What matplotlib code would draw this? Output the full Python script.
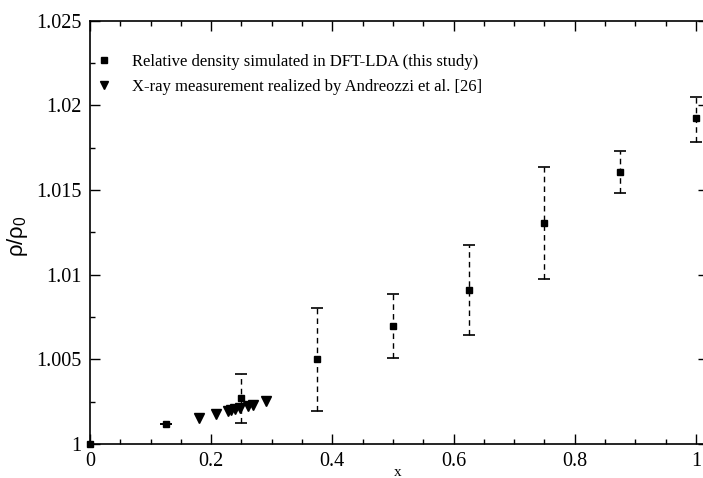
import numpy as np
import matplotlib
matplotlib.use('Agg')
import matplotlib.pyplot as plt
from matplotlib.ticker import MultipleLocator, FuncFormatter

plt.rcParams['font.family'] = ['Liberation Serif', 'DejaVu Serif']

# DFT-LDA relative density (this study)
x_dft = [0.0, 0.125, 0.25, 0.375, 0.5, 0.625, 0.75, 0.875, 1.0]
rho_dft = [1.0, 1.00116, 1.0027, 1.0050, 1.00696, 1.00908, 1.01306, 1.01606, 1.01923]
err_low = [0.0, 0.0, 0.00148, 0.00307, 0.00189, 0.00266, 0.00329, 0.00123, 0.00138]
err_high = [0.0, 0.0, 0.00145, 0.00302, 0.00189, 0.00268, 0.00328, 0.00126, 0.00128]

# X-ray measurement (Andreozzi et al.)
x_xray = [0.18, 0.208, 0.227, 0.233, 0.24, 0.247, 0.261, 0.269, 0.29]
rho_xray = [1.00153, 1.00176, 1.00193, 1.00198, 1.00205, 1.00211, 1.00223, 1.00229, 1.00254]

fig = plt.figure(figsize=(7.03, 4.78), dpi=100)
ax = fig.add_axes([90 / 703, 34 / 478, 618 / 703, (444 - 20.7) / 478])

# error bars (dashed) with caps
eb = ax.errorbar(x_dft[1:], rho_dft[1:], yerr=[err_low[1:], err_high[1:]], fmt='none',
                 ecolor='black', elinewidth=1.0, capsize=4, capthick=1.2)
eb[2][0].set_linestyle((0, (4, 3)))

ax.plot(x_dft, rho_dft, 's', color='black', markersize=5, clip_on=False, zorder=3,
        label='Relative density simulated in DFT-LDA (this study)')
ax.plot(x_xray, rho_xray, 'v', color='black', markersize=6.5, zorder=3,
        label='X-ray measurement realized by Andreozzi et al. [26]')

ax.set_xlim(0, 1.02)
ax.set_ylim(1.0, 1.025)
ax.xaxis.set_major_locator(MultipleLocator(0.2))
ax.xaxis.set_minor_locator(MultipleLocator(0.05))
ax.yaxis.set_major_locator(MultipleLocator(0.005))
ax.yaxis.set_minor_locator(MultipleLocator(0.0025))
fmt = FuncFormatter(lambda v, p: ('%.3f' % v).rstrip('0').rstrip('.'))
ax.xaxis.set_major_formatter(fmt)
ax.yaxis.set_major_formatter(fmt)
ax.tick_params(which='both', direction='in', top=True, right=True, labelsize=14.5, width=1)
ax.tick_params(which='major', length=7, pad=6)
ax.tick_params(which='minor', length=3.5)
for s in ax.spines.values():
    s.set_linewidth(1.2)

# axis labels placed by hand (reference keeps them close to the edges)
fig.text(398 / 703, 1 - 476 / 478, 'x', fontsize=11, ha='center', va='baseline')
fig.text(17 / 703, 1 - 236 / 478, r'ρ/ρ$_\mathregular{0}$', fontsize=16, rotation=90,
         ha='center', va='center', family=['Liberation Sans', 'DejaVu Sans'])

ax.legend(loc='upper left', bbox_to_anchor=(-0.007, 0.95), frameon=False, fontsize=12,
          numpoints=1, handlelength=0.8, handletextpad=1.3, labelspacing=0.55,
          borderaxespad=0.3, markerscale=0.8)

fig.savefig('out.png', dpi=100)
